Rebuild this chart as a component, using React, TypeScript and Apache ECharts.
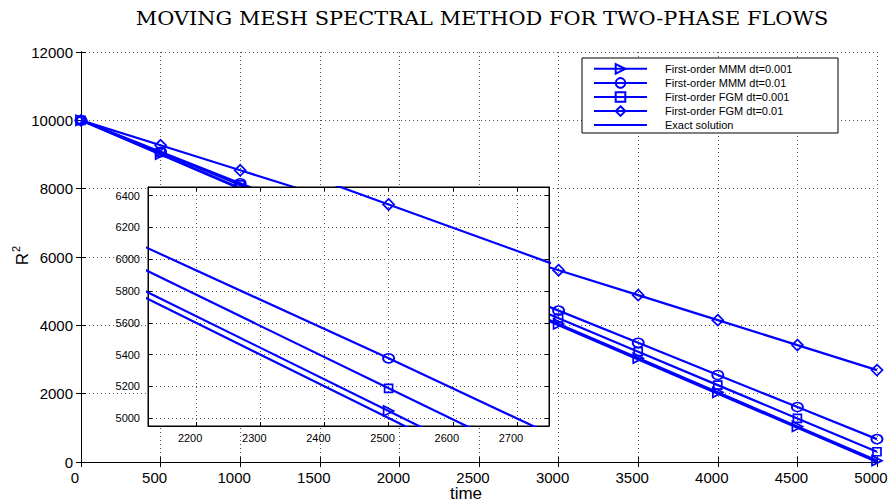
import React, { useEffect, useRef } from 'react';
import * as echarts from 'echarts';

// ---- data ----
const times = [0, 500, 1000, 1500, 2000, 2500, 3000, 3500, 4000, 4500, 5000];
const mmmDt001 = [10000, 9010, 8020, 7030, 6040, 5045, 4040, 3040, 2040, 1040, 40];
const mmmDt01 = [10000, 9080, 8160, 7230, 6300, 5376, 4430, 3490, 2545, 1610, 670];
const fgmDt001 = [10000, 9060, 8110, 7150, 6170, 5187, 4210, 3230, 2250, 1275, 300];
const fgmDt01 = [10000, 9269, 8538, 7807, 7076, 6345, 5614, 4883, 4152, 3421, 2690];
const exactSol = [10000, 9000, 8000, 7000, 6000, 5000, 4000, 3000, 2000, 1000, 0];

const seriesNames = [
  'First-order MMM dt=0.001',
  'First-order MMM dt=0.01',
  'First-order FGM dt=0.001',
  'First-order FGM dt=0.01',
  'Exact solution',
];
const seriesValues = [mmmDt001, mmmDt01, fgmDt001, fgmDt01, exactSol];

// axes
const mainX = { min: 0, max: 5000, interval: 500 };
const mainY = { min: 0, max: 12000, interval: 2000 };
const insetX = { min: 2125, max: 2750, step: 100 };
const insetY = { min: 4950, max: 6455, step: 200 };

const titleText = 'MOVING MESH SPECTRAL METHOD FOR TWO-PHASE FLOWS';
const xName = 'time';
const yNameBase = 'R';
const yNameSup = '2';

// ---- styles ----
const BLUE = '#0000ff';
const SANS = 'Arial, Liberation Sans';
const symbols = [
  { symbol: 'triangle', size: 10, rotate: -90 },
  { symbol: 'circle', size: [11, 9], rotate: 0 },
  { symbol: 'rect', size: 8, rotate: 0 },
  { symbol: 'diamond', size: 11, rotate: 0 },
  { symbol: 'none', size: 0, rotate: 0 },
];

const gridLine = { show: true, lineStyle: { color: '#555', type: [1, 3], width: 1 } };

function buildSeries(xi: number, yi: number, z: number) {
  return seriesNames.map((name, k) => ({
    type: 'line',
    name,
    xAxisIndex: xi,
    yAxisIndex: yi,
    z,
    data: times.map((t, i) => [t, seriesValues[k][i]]),
    symbol: symbols[k].symbol,
    symbolSize: symbols[k].size,
    symbolRotate: symbols[k].rotate,
    showSymbol: symbols[k].symbol !== 'none',
    showAllSymbol: true,
    clip: true,
    lineStyle: { color: BLUE, width: 2.2 },
    itemStyle: { color: 'rgba(255,255,255,0)', borderColor: BLUE, borderWidth: 1.7 },
    emphasis: { disabled: true },
  }));
}

export default function App() {
  const ref = useRef<HTMLDivElement>(null);
  useEffect(() => {
    if (!ref.current) return;
    const chart = echarts.init(ref.current, undefined, { renderer: 'svg' });
    const axisLine = { show: true, lineStyle: { color: '#000', width: 1 } };
    const tickIn = (len: number) => ({ show: true, inside: true, length: len, lineStyle: { color: '#000', width: 1 } });
    const plain = (v: number) => String(v);
    chart.setOption({
      animation: false,
      backgroundColor: '#fff',
      grid: [
        { left: 81, right: 14, top: 52, bottom: 40, show: false },
        {
          left: 148, top: 187, width: 401, height: 239, show: true,
          backgroundColor: '#fff', borderColor: '#000', borderWidth: 1, z: 3,
        },
      ],
      xAxis: [
        {
          type: 'value', gridIndex: 0, position: 'bottom', ...mainX,
          axisLine, axisTick: tickIn(5), splitLine: gridLine,
          axisLabel: { color: '#000', fontSize: 15, fontFamily: SANS, margin: 8, padding: [0, 12, 0, 0], formatter: plain },
        },
        {
          type: 'value', gridIndex: 0, position: 'top', ...mainX,
          axisLine, axisTick: tickIn(5), splitLine: { show: false }, axisLabel: { show: false },
        },
        {
          type: 'value', gridIndex: 1, position: 'bottom', min: insetX.min, max: insetX.max,
          minInterval: insetX.step, maxInterval: insetX.step, z: 4,
          axisLine, axisTick: tickIn(4), splitLine: gridLine,
          axisLabel: {
            color: '#000', fontSize: 11, fontFamily: SANS, margin: 6, padding: [0, 12, 0, 0],
            formatter: (v: number) => (v % insetX.step === 0 ? String(v) : ''),
          },
        },
        {
          type: 'value', gridIndex: 1, position: 'top', min: insetX.min, max: insetX.max,
          minInterval: insetX.step, maxInterval: insetX.step, z: 4,
          axisLine, axisTick: tickIn(4), splitLine: { show: false }, axisLabel: { show: false },
        },
      ],
      yAxis: [
        {
          type: 'value', gridIndex: 0, position: 'left', ...mainY,
          axisLine, axisTick: tickIn(5), splitLine: gridLine,
          axisLabel: { color: '#000', fontSize: 15, fontFamily: SANS, margin: 8, formatter: plain },
        },
        {
          type: 'value', gridIndex: 0, position: 'right', ...mainY,
          axisLine, axisTick: tickIn(5), splitLine: { show: false }, axisLabel: { show: false },
        },
        {
          type: 'value', gridIndex: 1, position: 'left', min: insetY.min, max: insetY.max,
          minInterval: insetY.step, maxInterval: insetY.step, z: 4,
          axisLine, axisTick: tickIn(4), splitLine: gridLine,
          axisLabel: {
            color: '#000', fontSize: 11, fontFamily: SANS, margin: 8,
            formatter: (v: number) => (v % insetY.step === 0 ? String(v) : ''),
          },
        },
        {
          type: 'value', gridIndex: 1, position: 'right', min: insetY.min, max: insetY.max,
          minInterval: insetY.step, maxInterval: insetY.step, z: 4,
          axisLine, axisTick: tickIn(4), splitLine: { show: false }, axisLabel: { show: false },
        },
      ],
      legend: {
        show: true,
        orient: 'vertical',
        left: 593,
        top: 63,
        padding: 0,
        itemWidth: 53,
        itemHeight: 12,
        itemGap: 2.5,
        z: 11,
        selectedMode: false,
        data: seriesNames.map((name, k) =>
          k === 4
            ? { name, itemStyle: { color: 'rgba(0,0,0,0)', borderColor: 'rgba(0,0,0,0)', borderWidth: 0 } }
            : { name }
        ),
        textStyle: { fontSize: 11, fontFamily: SANS, color: '#000', padding: [0, 0, 0, 13] },
      },
      graphic: [
        {
          type: 'rect', z: 10, silent: true,
          shape: { x: 582, y: 58, width: 256, height: 75 },
          style: { fill: '#fff', stroke: '#000', lineWidth: 1 },
        },
        {
          type: 'text', x: 482, y: 18.5, z: 10, scaleX: 1.1,
          style: {
            text: titleText, fontSize: 19, fontFamily: 'DejaVu Serif', fill: '#000',
            align: 'center', verticalAlign: 'middle',
          },
        },
        {
          type: 'text', x: 466, y: 493.5, z: 10,
          style: {
            text: xName, fontSize: 17, fontFamily: SANS, fill: '#000',
            align: 'center', verticalAlign: 'middle',
          },
        },
        {
          type: 'text', x: 22, y: 259, z: 10, rotation: Math.PI / 2,
          style: {
            text: yNameBase, fontSize: 17, fontFamily: SANS, fill: '#000',
            align: 'center', verticalAlign: 'middle',
          },
        },
        {
          type: 'text', x: 16, y: 249, z: 10, rotation: Math.PI / 2,
          style: {
            text: yNameSup, fontSize: 11, fontFamily: SANS, fill: '#000',
            align: 'center', verticalAlign: 'middle',
          },
        },
      ],
      series: [...buildSeries(0, 0, 2), ...buildSeries(2, 2, 5)],
    });
    return () => chart.dispose();
  }, []);
  return (
    <div
      ref={ref}
      style={{ position: 'fixed', left: 0, top: 0, width: 891, height: 502, background: '#fff' }}
    />
  );
}
